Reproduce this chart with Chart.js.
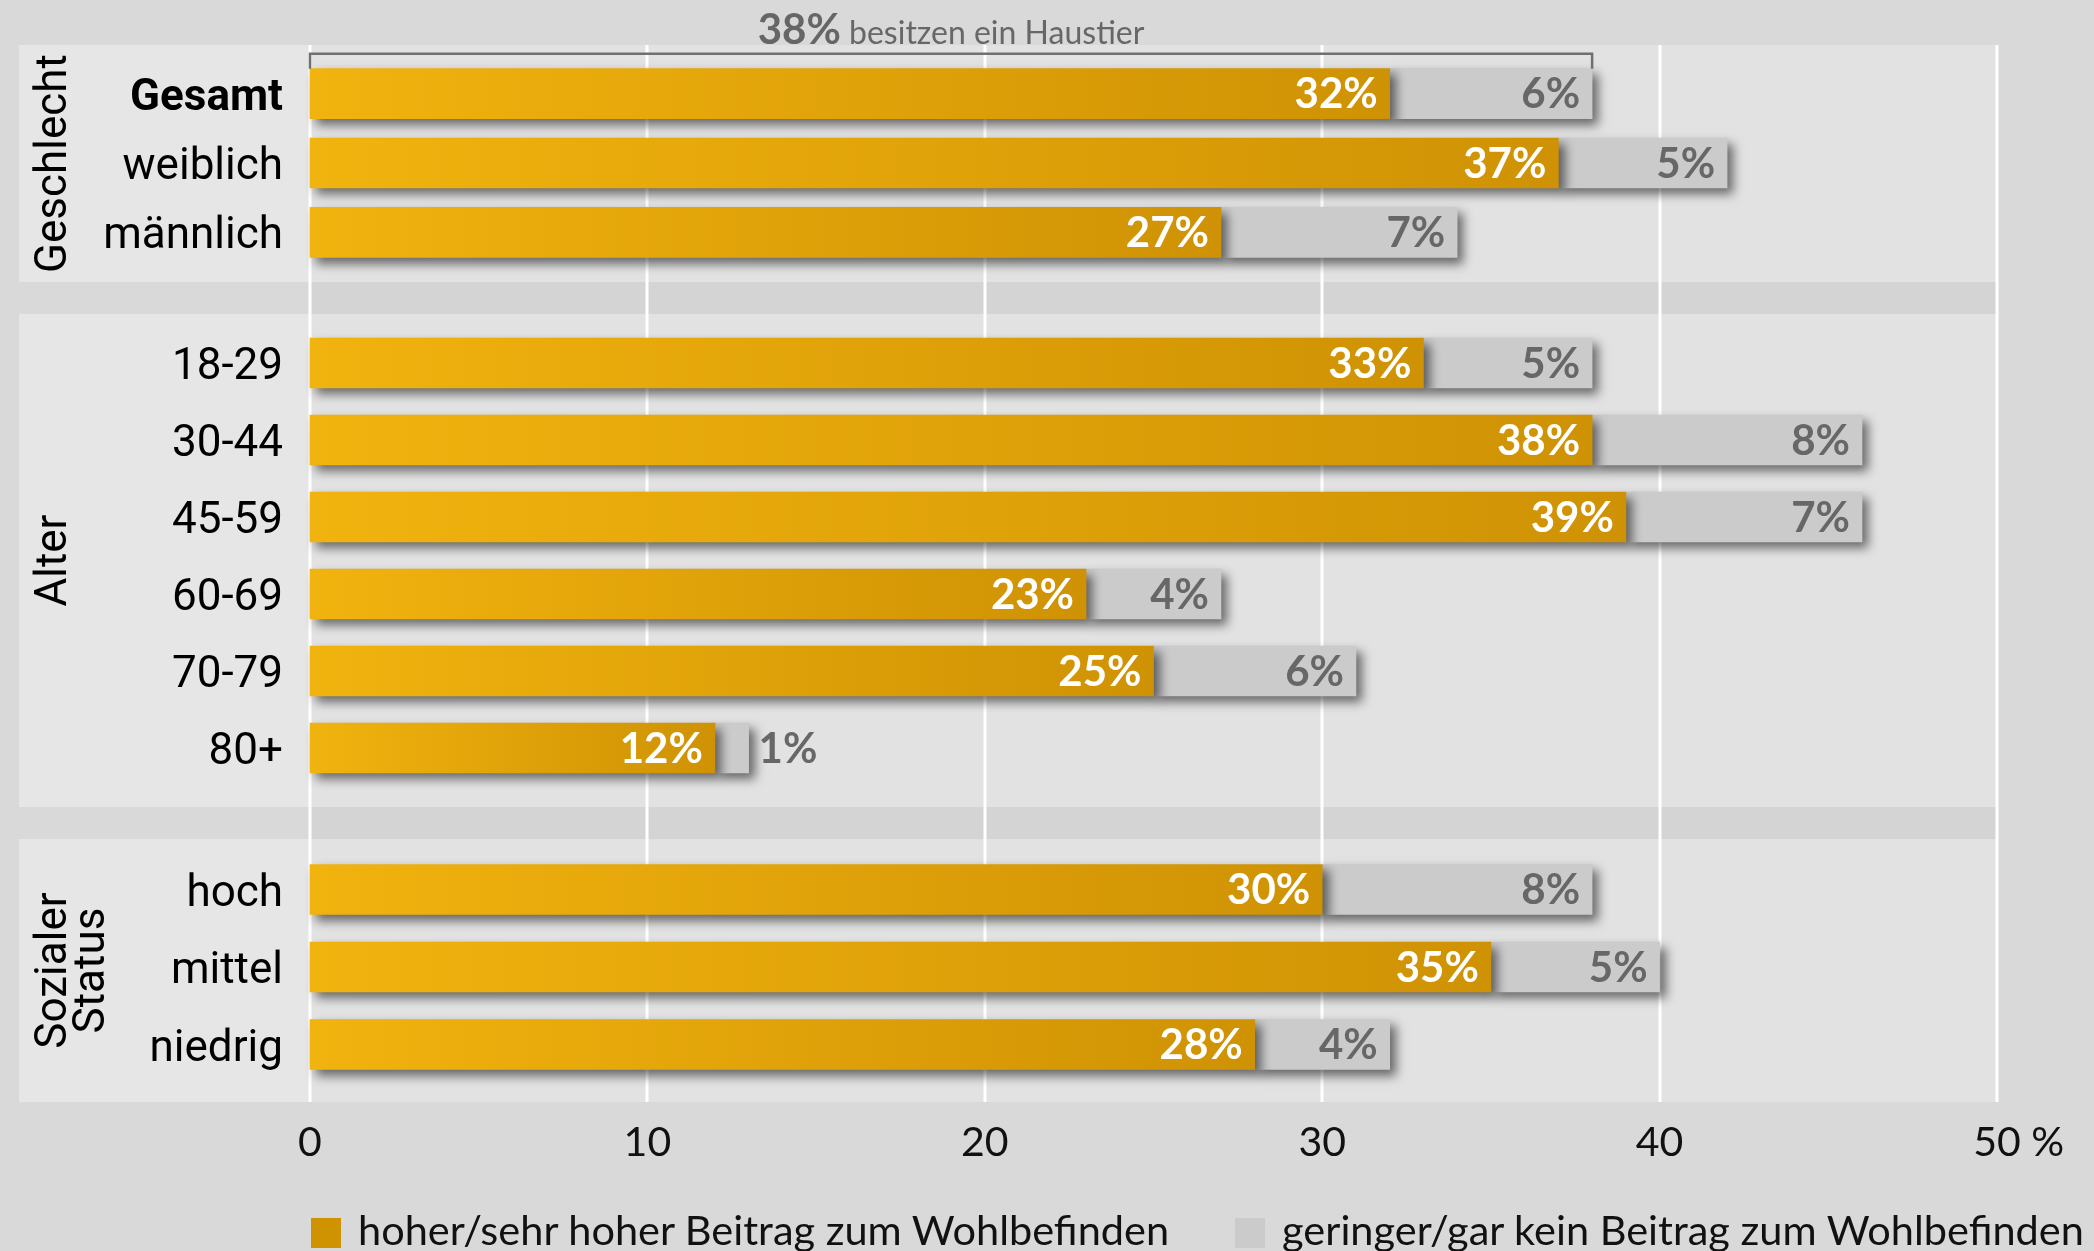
<!DOCTYPE html>
<html lang="de">
<head>
<meta charset="utf-8">
<title>Haustier und Wohlbefinden</title>
<script src="https://cdn.jsdelivr.net/npm/chart.js@4.4.1/dist/chart.umd.min.js"></script>
<style>
  html, body { margin: 0; padding: 0; background: #d9d9d9; }
  #wrap { position: relative; width: 2094px; height: 1251px; overflow: hidden; }
  #wrap canvas { position: absolute; left: 0; }
  #legend { position: absolute; left: 311px; top: 1212px; display: flex; align-items: center;
            font-family: Lato, sans-serif; font-size: 41.5px; line-height: 41px; color: #111; white-space: nowrap; }
  #legend .item { display: flex; align-items: center; margin-right: 66px; }
  #legend .sw { width: 30px; height: 30px; margin-right: 17px; }
  #legend .txt { position: relative; top: -3px; }
</style>
</head>
<body>
<div id="wrap">
  <canvas id="chart-gender" width="2094" height="298" style="top:0px"></canvas>
  <canvas id="chart-age" width="2094" height="525" style="top:298px"></canvas>
  <canvas id="chart-status" width="2094" height="428" style="top:823px"></canvas>
  <div id="legend"></div>
</div>
<script>
// survey values in percent
const genderLabels = ['Gesamt', 'weiblich', 'männlich'];
const genderHigh = [32, 37, 27];
const genderLow = [6, 5, 7];

const ageLabels = ['18-29', '30-44', '45-59', '60-69', '70-79', '80+'];
const ageHigh = [33, 38, 39, 23, 25, 12];
const ageLow = [5, 8, 7, 4, 6, 1];

const statusLabels = ['hoch', 'mittel', 'niedrig'];
const statusHigh = [30, 35, 28];
const statusLow = [8, 5, 4];

const groupTitles = ['Geschlecht', 'Alter', ['Sozialer', 'Status']];
const seriesNames = ['hoher/sehr hoher Beitrag zum Wohlbefinden', 'geringer/gar kein Beitrag zum Wohlbefinden'];
const xTicks = [0, 10, 20, 30, 40, 50];
const unit = '%';
const ownersText = 'besitzen ein Haustier';

const ORANGE = '#cf9200';
const ORANGE_START = '#f1b30e';
const ORANGE_END = '#cf9204';
const GREY_BAR = '#cbcbcb';
const GREY_TEXT = '#676767';

function orangeGradient(c) {
  const chart = c.chart;
  const xs = chart.scales.x;
  if (!xs || c.type !== 'data' || !chart.chartArea) return ORANGE;
  const x0 = xs.getPixelForValue(0);
  const x1 = xs.getPixelForValue(c.raw);
  const g = chart.ctx.createLinearGradient(x0, 0, x1, 0);
  g.addColorStop(0, ORANGE_START);
  g.addColorStop(1, ORANGE_END);
  return g;
}

// panel background, grid lines and rotated group title
const panelPlugin = {
  id: 'panel',
  beforeDraw(chart, args, opts) {
    const { ctx, chartArea, scales: { x } } = chart;
    const left = x.getPixelForValue(xTicks[0]);
    const right = x.getPixelForValue(xTicks[xTicks.length - 1]);
    const top = chartArea.top - opts.padTop;
    const bottom = chartArea.bottom + opts.padBottom;
    const colTop = opts.first ? top : 0;
    const colBottom = opts.last ? bottom : chart.height;
    ctx.save();
    ctx.fillStyle = '#d4d4d4';
    ctx.fillRect(left, colTop, right - left, colBottom - colTop);
    ctx.fillStyle = '#e6e6e6';
    ctx.fillRect(opts.panelLeft, top, left - opts.panelLeft, bottom - top);
    ctx.fillStyle = '#e2e2e2';
    ctx.fillRect(left, top, right - left, bottom - top);

    ctx.fillStyle = '#ffffff';
    xTicks.forEach(v => {
      const px = Math.round(x.getPixelForValue(v));
      ctx.fillRect(px - 1.5, colTop, 3, colBottom - colTop);
    });

    ctx.fillStyle = '#000';
    ctx.font = '44px Roboto';
    ctx.textAlign = 'center';
    ctx.textBaseline = 'alphabetic';
    const cy = (top + bottom) / 2;
    [].concat(opts.title).forEach((line, k) => {
      ctx.save();
      ctx.translate(66 + k * 38, cy);
      ctx.rotate(-Math.PI / 2);
      ctx.fillText(line, 0, 0);
      ctx.restore();
    });
    ctx.restore();
  }
};

const shadowPlugin = {
  id: 'barShadow',
  beforeDatasetsDraw(chart) {
    const ctx = chart.ctx;
    ctx.save();
    ctx.shadowColor = 'rgba(0,0,0,0.55)';
    ctx.shadowBlur = 10;
    ctx.shadowOffsetX = 6;
    ctx.shadowOffsetY = 6;
  },
  afterDatasetsDraw(chart) {
    chart.ctx.restore();
  }
};

// percentages at the end of each segment
const valueLabels = {
  id: 'valueLabels',
  afterDraw(chart) {
    const ctx = chart.ctx;
    ctx.save();
    ctx.font = 'bold 42px Lato';
    ctx.textBaseline = 'middle';
    chart.data.datasets.forEach((ds, di) => {
      chart.getDatasetMeta(di).data.forEach((bar, i) => {
        const text = ds.data[i] + unit;
        const w = ctx.measureText(text).width;
        ctx.fillStyle = di === 0 ? '#ffffff' : GREY_TEXT;
        if (bar.x - bar.base > w + 20) {
          ctx.textAlign = 'right';
          ctx.fillText(text, bar.x - 12, bar.y + 1);
        } else {
          ctx.textAlign = 'left';
          ctx.fillText(text, bar.x + 10, bar.y + 1);
        }
      });
    });
    ctx.restore();
  }
};

// bracket above the total bar
const ownersPlugin = {
  id: 'owners',
  afterDraw(chart) {
    const { ctx, scales: { x } } = chart;
    const total = genderHigh[0] + genderLow[0];
    const bar = chart.getDatasetMeta(0).data[0];
    const barTop = bar.y - bar.height / 2;
    const lineY = barTop - 15;
    const x0 = x.getPixelForValue(0);
    const x1 = x.getPixelForValue(total);
    ctx.save();
    ctx.strokeStyle = '#707070';
    ctx.lineWidth = 2.5;
    ctx.beginPath();
    ctx.moveTo(x0, barTop);
    ctx.lineTo(x0, lineY);
    ctx.lineTo(x1, lineY);
    ctx.lineTo(x1, barTop);
    ctx.stroke();

    const big = total + unit;
    const small = ' ' + ownersText;
    ctx.textBaseline = 'alphabetic';
    ctx.textAlign = 'left';
    ctx.font = 'bold 42px Lato';
    const wBig = ctx.measureText(big).width;
    ctx.font = '32px Lato';
    const wSmall = ctx.measureText(small).width;
    const start = (x0 + x1) / 2 - (wBig + wSmall) / 2;
    ctx.fillStyle = '#666666';
    ctx.font = 'bold 42px Lato';
    ctx.fillText(big, start, lineY - 10);
    ctx.fillStyle = GREY_TEXT;
    ctx.font = '32px Lato';
    ctx.fillText(small, start + wBig, lineY - 10);
    ctx.restore();
  }
};

// unit after the last tick label
const unitPlugin = {
  id: 'unitTick',
  afterDraw(chart) {
    const { ctx, scales: { x } } = chart;
    const font = Chart.helpers.toFont(x.options.ticks.font);
    const last = xTicks[xTicks.length - 1];
    ctx.save();
    ctx.font = font.string;
    ctx.fillStyle = x.options.ticks.color;
    ctx.textAlign = 'left';
    ctx.textBaseline = 'middle';
    const px = x.getPixelForValue(last) + ctx.measureText(String(last)).width / 2 + ctx.measureText(' ').width;
    const py = x.top + x.options.ticks.padding + font.lineHeight / 2;
    ctx.fillText(unit, px, py);
    ctx.restore();
  }
};

function makeChart(id, labels, high, low, cfg) {
  const plugins = [panelPlugin, shadowPlugin, valueLabels];
  if (cfg.owners) plugins.push(ownersPlugin);
  if (cfg.showAxis) plugins.push(unitPlugin);

  return new Chart(document.getElementById(id), {
    type: 'bar',
    data: {
      labels: labels,
      datasets: [
        { label: seriesNames[0], data: high, backgroundColor: orangeGradient, clip: false },
        { label: seriesNames[1], data: low, backgroundColor: GREY_BAR, clip: false }
      ]
    },
    plugins: plugins,
    options: {
      indexAxis: 'y',
      responsive: false,
      devicePixelRatio: 1,
      animation: false,
      events: [],
      barThickness: 50,
      layout: { padding: { left: 0, right: 97, top: cfg.padTop, bottom: cfg.padBottom } },
      scales: {
        x: {
          stacked: true,
          min: xTicks[0],
          max: xTicks[xTicks.length - 1],
          display: cfg.showAxis,
          afterBuildTicks: axis => { axis.ticks = xTicks.map(v => ({ value: v })); },
          afterFit: axis => {
            axis.height = cfg.showAxis ? 90 : 0;
            axis.paddingLeft = 0;
            axis.paddingRight = 0;
          },
          grid: { display: false, drawTicks: false },
          border: { display: false },
          ticks: {
            padding: 35,
            color: '#111111',
            font: { family: 'Lato', size: 41 },
            maxRotation: 0,
            autoSkip: false,
            callback: v => String(v)
          }
        },
        y: {
          stacked: true,
          afterFit: axis => { axis.width = 310; axis.paddingTop = 0; axis.paddingBottom = 0; },
          grid: { display: false, drawTicks: true, tickLength: 27 },
          border: { display: false },
          ticks: {
            padding: 0,
            labelOffset: 5,
            autoSkip: false,
            color: '#000000',
            font: c => ({ family: 'Roboto', size: 44, weight: (cfg.boldFirst && c.index === 0) ? 'bold' : 'normal' })
          }
        }
      },
      plugins: {
        legend: { display: false },
        tooltip: { enabled: false },
        panel: {
          title: cfg.title,
          padTop: cfg.panelTop,
          padBottom: cfg.panelBottom,
          panelLeft: 19,
          first: !!cfg.first,
          last: !!cfg.last
        }
      }
    }
  });
}

makeChart('chart-gender', genderLabels, genderHigh, genderLow, {
  title: groupTitles[0], padTop: 59, padBottom: 31, panelTop: 14, panelBottom: 15,
  first: true, boldFirst: true, owners: true, showAxis: false
});
makeChart('chart-age', ageLabels, ageHigh, ageLow, {
  title: groupTitles[1], padTop: 26.5, padBottom: 36.5, panelTop: 10.5, panelBottom: 20.5,
  showAxis: false
});
makeChart('chart-status', statusLabels, statusHigh, statusLow, {
  title: groupTitles[2], padTop: 27.75, padBottom: 77.75, panelTop: 11.75, panelBottom: 18.75,
  last: true, showAxis: true
});

// legend
const legend = document.getElementById('legend');
[ORANGE, GREY_BAR].forEach((color, i) => {
  const item = document.createElement('div');
  item.className = 'item';
  const sw = document.createElement('span');
  sw.className = 'sw';
  sw.style.background = color;
  const txt = document.createElement('span');
  txt.className = 'txt';
  txt.textContent = seriesNames[i];
  item.appendChild(sw);
  item.appendChild(txt);
  legend.appendChild(item);
});
</script>
</body>
</html>
